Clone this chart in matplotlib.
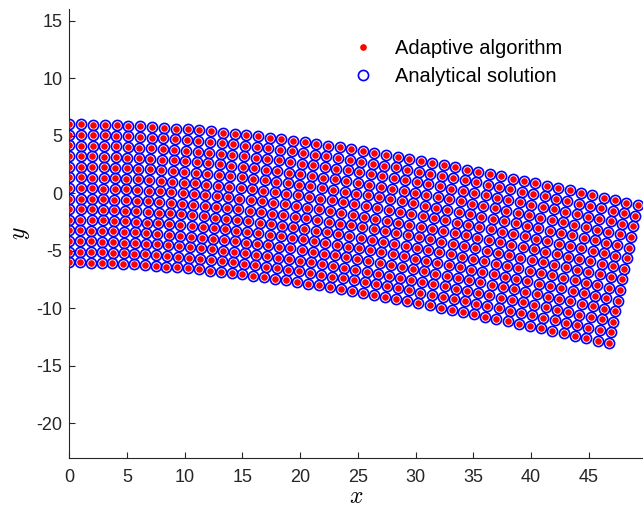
import numpy as np
import matplotlib.pyplot as plt

plt.rcParams['font.family'] = ['Liberation Sans', 'DejaVu Sans']
plt.rcParams['mathtext.fontset'] = 'cm'
plt.rcParams['axes.unicode_minus'] = False

# undeformed grid of the beam (50 columns along x, 14 rows through the depth)
x_cols = np.linspace(0, 48, 50)
y_rows = np.linspace(-6, 6, 14)

# centreline deflection of each column
deflection = [0.000, -0.010, -0.028, -0.055, -0.089, -0.131, -0.181, -0.238, -0.302, -0.373,
              -0.452, -0.536, -0.628, -0.726, -0.829, -0.939, -1.055, -1.177, -1.304, -1.436,
              -1.573, -1.716, -1.863, -2.015, -2.171, -2.332, -2.497, -2.665, -2.838, -3.014,
              -3.193, -3.376, -3.562, -3.751, -3.942, -4.137, -4.333, -4.532, -4.733, -4.935,
              -5.140, -5.346, -5.553, -5.762, -5.972, -6.182, -6.393, -6.605, -6.817, -7.029]

# rotation of each cross section
rotation = [-0.0026, 0.0059, 0.0143, 0.0225, 0.0304, 0.0382, 0.0459, 0.0533, 0.0606, 0.0677,
            0.0746, 0.0814, 0.0880, 0.0944, 0.1006, 0.1066, 0.1125, 0.1182, 0.1238, 0.1291,
            0.1343, 0.1393, 0.1441, 0.1487, 0.1532, 0.1575, 0.1616, 0.1656, 0.1694, 0.1730,
            0.1764, 0.1796, 0.1827, 0.1856, 0.1883, 0.1909, 0.1932, 0.1954, 0.1974, 0.1993,
            0.2009, 0.2024, 0.2037, 0.2049, 0.2059, 0.2066, 0.2073, 0.2077, 0.2080, 0.2080]

X0, Y0 = np.meshgrid(x_cols, y_rows)
xd = X0 + Y0 * np.array(rotation)          # sections rotate about the centreline
yd = Y0 + np.array(deflection)             # and move down with it

fig = plt.figure(figsize=(6.43, 5.09), dpi=100)
ax = fig.add_axes([0.1078, 0.1008, 0.892, 0.881])

ax.plot(xd.ravel(), yd.ravel(), 'o', ms=7.3, mfc='none', mec='blue', mew=1.2,
        label='Analytical solution', zorder=2)
ax.plot(xd.ravel(), yd.ravel(), 'o', ms=4.8, mfc='red', mec='none',
        label='Adaptive algorithm', zorder=3)

ax.set_xlim(0, 49.7)
ax.set_ylim(-23, 16)
ax.set_xticks(range(0, 50, 5))
ax.set_yticks(range(-20, 20, 5))
ax.spines['top'].set_visible(False)
ax.spines['right'].set_visible(False)
for s in ('left', 'bottom'):
    ax.spines[s].set_color('#262626')
ax.tick_params(direction='in', length=4, colors='#262626', labelsize=13)
ax.tick_params(axis='y', pad=5)
ax.tick_params(axis='x', pad=8)
ax.set_xlabel('$x$', fontsize=17, labelpad=0)
ax.set_ylabel('$y$', fontsize=17, labelpad=3)

h, l = ax.get_legend_handles_labels()
fig.legend(h[::-1], l[::-1], loc='upper left', bbox_to_anchor=(353 / 643, 1 - 39 / 509),
           frameon=False, fontsize=14.5, handlelength=1.0, handletextpad=1.1,
           borderpad=0, borderaxespad=0, labelspacing=0.45)

plt.savefig('out.png', dpi=100)
